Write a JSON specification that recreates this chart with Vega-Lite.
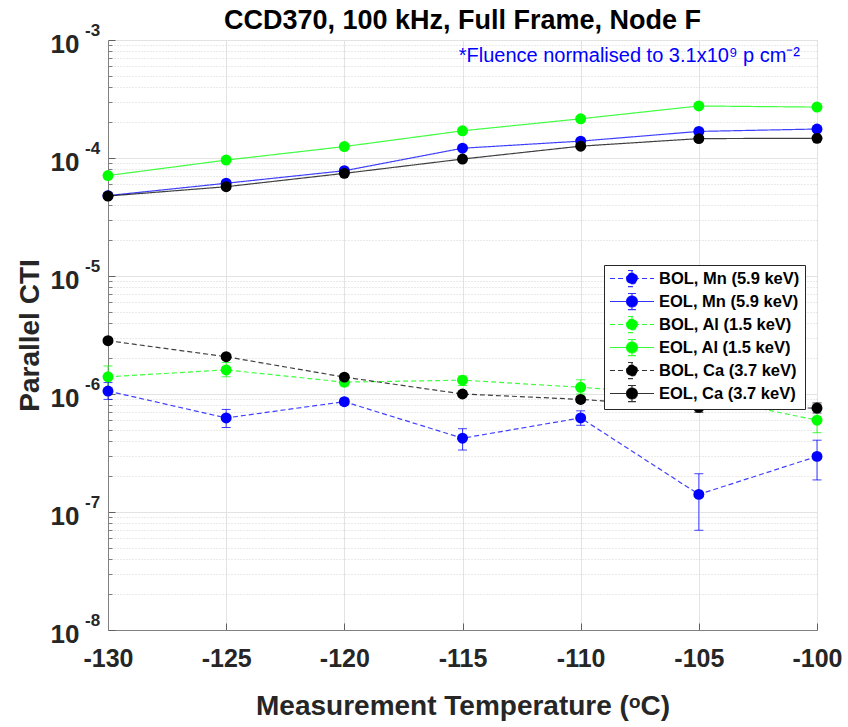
{
  "$schema": "https://vega.github.io/schema/vega-lite/v6.json",
  "width": 709,
  "height": 590,
  "autosize": "none",
  "padding": {"left": 108, "top": 40, "right": 31, "bottom": 97},
  "background": "white",
  "title": {"text": "CCD370, 100 kHz, Full Frame, Node F", "font": "Liberation Sans", "fontSize": 27, "fontWeight": "bold", "color": "black", "anchor": "middle", "offset": -13},
  "config": {"view": {"stroke": "#c8c8c8", "strokeWidth": 1}},
  "datasets": {
    "main": [
      {"T": -130, "s": "BOL, Mn (5.9 keV)", "v": 1.06e-6, "lo": 9.0e-7, "hi": 1.25e-6},
      {"T": -125, "s": "BOL, Mn (5.9 keV)", "v": 6.27e-7, "lo": 5.2e-7, "hi": 7.4e-7},
      {"T": -120, "s": "BOL, Mn (5.9 keV)", "v": 8.61e-7, "lo": 8.1e-7, "hi": 9.2e-7},
      {"T": -115, "s": "BOL, Mn (5.9 keV)", "v": 4.22e-7, "lo": 3.35e-7, "hi": 5.08e-7},
      {"T": -110, "s": "BOL, Mn (5.9 keV)", "v": 6.27e-7, "lo": 5.43e-7, "hi": 7.2e-7},
      {"T": -105, "s": "BOL, Mn (5.9 keV)", "v": 1.41e-7, "lo": 7.0e-8, "hi": 2.11e-7},
      {"T": -100, "s": "BOL, Mn (5.9 keV)", "v": 2.96e-7, "lo": 1.87e-7, "hi": 4.06e-7},
      {"T": -130, "s": "EOL, Mn (5.9 keV)", "v": 4.8e-5, "lo": 4.66e-5, "hi": 4.94e-5},
      {"T": -125, "s": "EOL, Mn (5.9 keV)", "v": 6.11e-5, "lo": 5.93e-5, "hi": 6.29e-5},
      {"T": -120, "s": "EOL, Mn (5.9 keV)", "v": 7.8e-5, "lo": 7.57e-5, "hi": 8.03e-5},
      {"T": -115, "s": "EOL, Mn (5.9 keV)", "v": 1.21e-4, "lo": 1.17e-4, "hi": 1.25e-4},
      {"T": -110, "s": "EOL, Mn (5.9 keV)", "v": 1.39e-4, "lo": 1.35e-4, "hi": 1.43e-4},
      {"T": -105, "s": "EOL, Mn (5.9 keV)", "v": 1.68e-4, "lo": 1.63e-4, "hi": 1.73e-4},
      {"T": -100, "s": "EOL, Mn (5.9 keV)", "v": 1.76e-4, "lo": 1.71e-4, "hi": 1.81e-4},
      {"T": -130, "s": "BOL, Al (1.5 keV)", "v": 1.4e-6, "lo": 1.1e-6, "hi": 1.73e-6},
      {"T": -125, "s": "BOL, Al (1.5 keV)", "v": 1.6e-6, "lo": 1.4e-6, "hi": 1.85e-6},
      {"T": -120, "s": "BOL, Al (1.5 keV)", "v": 1.26e-6, "lo": 1.17e-6, "hi": 1.36e-6},
      {"T": -115, "s": "BOL, Al (1.5 keV)", "v": 1.31e-6, "lo": 1.18e-6, "hi": 1.42e-6},
      {"T": -110, "s": "BOL, Al (1.5 keV)", "v": 1.14e-6, "lo": 1.0e-6, "hi": 1.32e-6},
      {"T": -105, "s": "BOL, Al (1.5 keV)", "v": 9.6e-7, "lo": 8.6e-7, "hi": 1.06e-6},
      {"T": -100, "s": "BOL, Al (1.5 keV)", "v": 6.0e-7, "lo": 4.7e-7, "hi": 7.3e-7},
      {"T": -130, "s": "EOL, Al (1.5 keV)", "v": 7.1e-5, "lo": 6.89e-5, "hi": 7.31e-5},
      {"T": -125, "s": "EOL, Al (1.5 keV)", "v": 9.6e-5, "lo": 9.31e-5, "hi": 9.89e-5},
      {"T": -120, "s": "EOL, Al (1.5 keV)", "v": 1.25e-4, "lo": 1.21e-4, "hi": 1.29e-4},
      {"T": -115, "s": "EOL, Al (1.5 keV)", "v": 1.7e-4, "lo": 1.65e-4, "hi": 1.75e-4},
      {"T": -110, "s": "EOL, Al (1.5 keV)", "v": 2.15e-4, "lo": 2.09e-4, "hi": 2.21e-4},
      {"T": -105, "s": "EOL, Al (1.5 keV)", "v": 2.76e-4, "lo": 2.68e-4, "hi": 2.84e-4},
      {"T": -100, "s": "EOL, Al (1.5 keV)", "v": 2.7e-4, "lo": 2.62e-4, "hi": 2.78e-4},
      {"T": -130, "s": "BOL, Ca (3.7 keV)", "v": 2.83e-6, "lo": 2.72e-6, "hi": 2.94e-6},
      {"T": -125, "s": "BOL, Ca (3.7 keV)", "v": 2.07e-6, "lo": 1.98e-6, "hi": 2.16e-6},
      {"T": -120, "s": "BOL, Ca (3.7 keV)", "v": 1.39e-6, "lo": 1.33e-6, "hi": 1.45e-6},
      {"T": -115, "s": "BOL, Ca (3.7 keV)", "v": 1.0e-6, "lo": 9.5e-7, "hi": 1.05e-6},
      {"T": -110, "s": "BOL, Ca (3.7 keV)", "v": 9.0e-7, "lo": 8.5e-7, "hi": 9.5e-7},
      {"T": -105, "s": "BOL, Ca (3.7 keV)", "v": 7.7e-7, "lo": 7.0e-7, "hi": 8.5e-7},
      {"T": -100, "s": "BOL, Ca (3.7 keV)", "v": 7.6e-7, "lo": 6.9e-7, "hi": 8.4e-7},
      {"T": -130, "s": "EOL, Ca (3.7 keV)", "v": 4.76e-5, "lo": 4.62e-5, "hi": 4.9e-5},
      {"T": -125, "s": "EOL, Ca (3.7 keV)", "v": 5.71e-5, "lo": 5.54e-5, "hi": 5.88e-5},
      {"T": -120, "s": "EOL, Ca (3.7 keV)", "v": 7.41e-5, "lo": 7.19e-5, "hi": 7.63e-5},
      {"T": -115, "s": "EOL, Ca (3.7 keV)", "v": 9.8e-5, "lo": 9.51e-5, "hi": 1.01e-4},
      {"T": -110, "s": "EOL, Ca (3.7 keV)", "v": 1.26e-4, "lo": 1.22e-4, "hi": 1.3e-4},
      {"T": -105, "s": "EOL, Ca (3.7 keV)", "v": 1.46e-4, "lo": 1.42e-4, "hi": 1.5e-4},
      {"T": -100, "s": "EOL, Ca (3.7 keV)", "v": 1.47e-4, "lo": 1.43e-4, "hi": 1.51e-4}
    ],
    "exps": [
      {"v": 1e-3, "e": "-3"},
      {"v": 1e-4, "e": "-4"},
      {"v": 1e-5, "e": "-5"},
      {"v": 1e-6, "e": "-6"},
      {"v": 1e-7, "e": "-7"},
      {"v": 1e-8, "e": "-8"}
    ]
  },
  "layer": [
    {
      "data": {"name": "main"},
      "mark": {"type": "rule", "strokeWidth": 1, "opacity": 0.75},
      "encoding": {
        "x": {"field": "T", "type": "quantitative", "scale": {"domain": [-130, -100], "nice": false, "zero": false},
          "axis": {"values": [-130, -125, -120, -115, -110, -105, -100], "labelExpr": "'-' + (-datum.value)", "tickSize": -7, "tickColor": "#606060", "domainColor": "#808080", "labelFont": "Liberation Sans", "labelFontSize": 25, "labelFontWeight": "bold", "labelColor": "#262626", "labelPadding": 23, "labelFlush": false,
            "grid": true, "gridColor": "#e3e3e3", "title": "Measurement Temperature (ᵒC)", "titleFont": "Liberation Sans", "titleFontSize": 28, "titleFontWeight": "bold", "titleColor": "#262626", "titleY": 76, "titleBaseline": "middle"}},
        "y": {"field": "lo", "type": "quantitative", "scale": {"type": "log", "domain": [1e-8, 1e-3], "nice": false},
          "axis": {"orient": "left", "values": [2e-8,3e-8,4e-8,5e-8,6e-8,7e-8,8e-8,9e-8,2e-7,3e-7,4e-7,5e-7,6e-7,7e-7,8e-7,9e-7,2e-6,3e-6,4e-6,5e-6,6e-6,7e-6,8e-6,9e-6,2e-5,3e-5,4e-5,5e-5,6e-5,7e-5,8e-5,9e-5,2e-4,3e-4,4e-4,5e-4,6e-4,7e-4,8e-4,9e-4], "labels": false, "domain": false, "ticks": true, "tickSize": -4, "tickColor": "#808080", "grid": true, "gridDash": [1, 2], "gridColor": "#d4d4d4", "title": null}},
        "y2": {"field": "hi"},
        "color": {"field": "s", "type": "nominal"}
      }
    },
    {
      "data": {"name": "main"},
      "mark": {"type": "tick", "orient": "horizontal", "size": 9, "thickness": 1, "opacity": 0.75},
      "encoding": {
        "x": {"field": "T", "type": "quantitative"},
        "y": {"field": "lo", "type": "quantitative", "axis": null},
        "color": {"field": "s", "type": "nominal"}
      }
    },
    {
      "data": {"name": "main"},
      "mark": {"type": "tick", "orient": "horizontal", "size": 9, "thickness": 1, "opacity": 0.75},
      "encoding": {
        "x": {"field": "T", "type": "quantitative"},
        "y": {"field": "hi", "type": "quantitative", "axis": null},
        "color": {"field": "s", "type": "nominal"}
      }
    },
    {
      "data": {"name": "main"},
      "mark": {"type": "line", "strokeWidth": 1.2, "strokeOpacity": 0.75},
      "encoding": {
        "x": {"field": "T", "type": "quantitative"},
        "y": {"field": "v", "type": "quantitative",
          "axis": {"orient": "left", "values": [1e-8, 1e-7, 1e-6, 1e-5, 1e-4, 1e-3], "labelExpr": "'10'", "labelFont": "Liberation Sans", "labelFontSize": 26, "labelFontWeight": "bold", "labelColor": "#262626", "labelPadding": 36, "labelOffset": 4, "labelFlush": false, "labelBaseline": "middle", "tickSize": -7, "tickColor": "#606060", "domainColor": "#808080", "grid": true, "gridColor": "#e3e3e3",
            "title": "Parallel CTI", "titleFont": "Liberation Sans", "titleFontSize": 28, "titleFontWeight": "bold", "titleColor": "#262626", "titleX": -78, "titleY": 295, "titleBaseline": "middle", "titleAngle": -90}},
        "color": {"field": "s", "type": "nominal", "sort": null,
          "scale": {"domain": ["BOL, Mn (5.9 keV)", "EOL, Mn (5.9 keV)", "BOL, Al (1.5 keV)", "EOL, Al (1.5 keV)", "BOL, Ca (3.7 keV)", "EOL, Ca (3.7 keV)"], "range": ["#0000ff", "#0000ff", "#00ff00", "#00ff00", "#000000", "#000000"]},
          "legend": {"orient": "none", "legendX": 496, "legendY": 225, "title": null,
            "symbolType": "M-1,0H4.87M1.2,0A0.73,0.73,0,1,0,2.66,0A0.73,0.73,0,1,0,1.2,0ZM1.93,-1.07V1.07M1.4,-1.07H2.46M1.4,1.07H2.46",
            "symbolSize": 225, "symbolStrokeWidth": 1.2, "labelFont": "Liberation Sans", "labelFontSize": 16.5, "labelFontWeight": "bold", "labelColor": "black", "labelOffset": 33,
            "fillColor": "white", "strokeColor": "#262626", "padding": 5, "rowPadding": 2,
            "encode": {"symbols": {"update": {"fill": {"scale": "color", "field": "value"}, "stroke": {"scale": "color", "field": "value"}, "strokeDash": {"scale": "strokeDash", "field": "value"}, "strokeOpacity": {"value": 0.8}, "fillOpacity": {"value": 1}, "opacity": {"value": 1}}}}}},
        "strokeDash": {"field": "s", "type": "nominal", "sort": null,
          "scale": {"domain": ["BOL, Mn (5.9 keV)", "EOL, Mn (5.9 keV)", "BOL, Al (1.5 keV)", "EOL, Al (1.5 keV)", "BOL, Ca (3.7 keV)", "EOL, Ca (3.7 keV)"], "range": [[5, 3], [1, 0], [5, 3], [1, 0], [5, 3], [1, 0]]},
          "legend": null}
      }
    },
    {
      "data": {"name": "main"},
      "mark": {"type": "point", "filled": true, "size": 120, "opacity": 1},
      "encoding": {
        "x": {"field": "T", "type": "quantitative"},
        "y": {"field": "v", "type": "quantitative", "axis": null},
        "color": {"field": "s", "type": "nominal"}
      }
    },
    {
      "data": {"name": "exps"},
      "mark": {"type": "text", "align": "left", "baseline": "middle", "dx": -23, "dy": -9, "font": "Liberation Sans", "fontSize": 17, "fontWeight": "bold", "color": "#262626", "clip": false},
      "encoding": {
        "x": {"datum": -130, "type": "quantitative"},
        "y": {"field": "v", "type": "quantitative", "axis": null},
        "text": {"field": "e"}
      }
    },
    {
      "data": {"values": [{"t": "*Fluence normalised to 3.1x10⁹ p cm⁻²"}]},
      "mark": {"type": "text", "align": "right", "baseline": "middle", "dx": -17, "dy": 16, "font": "Liberation Sans", "fontSize": 20, "color": "#0000ff"},
      "encoding": {
        "x": {"datum": -100, "type": "quantitative"},
        "y": {"datum": 1e-3, "type": "quantitative", "axis": null},
        "text": {"field": "t"}
      }
    }
  ],
  "resolve": {"axis": {"y": "independent"}}
}
